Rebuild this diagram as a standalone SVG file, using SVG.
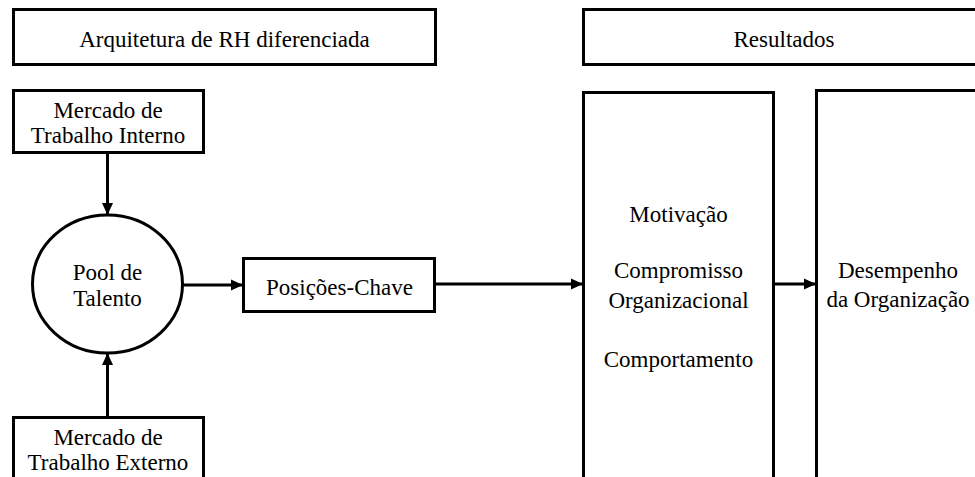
<svg xmlns="http://www.w3.org/2000/svg" width="975" height="477" viewBox="0 0 975 477">
<style>
.box{fill:#fff;stroke:#000;stroke-width:3}
.t{font-size:23px;fill:#000;text-anchor:middle}
.c{stroke:#000;stroke-width:3;fill:none}
</style>
<defs>
<marker id="ah" markerUnits="userSpaceOnUse" markerWidth="12" markerHeight="12" refX="12" refY="6" orient="auto">
<path d="M0,0.5 L12,6 L0,11.5 z" fill="#000"/>
</marker>
</defs>
<rect width="975" height="477" fill="#fff"/>
<g font-family="Liberation Serif, Tinos, DejaVu Serif, serif">
<g id="hdr-arq"><rect class="box" x="13.5" y="9.5" width="422" height="55"/><text class="t" x="224.5" y="47">Arquitetura de RH diferenciada</text></g>
<g id="hdr-res"><rect class="box" x="583.5" y="9.5" width="410" height="55"/><text class="t" x="784" y="47">Resultados</text></g>
<g id="mti"><rect class="box" x="13.5" y="90.5" width="190" height="62"/><text class="t" x="108" y="118">Mercado de</text><text class="t" x="108" y="143">Trabalho Interno</text></g>
<g id="pool"><ellipse class="box" cx="107.5" cy="284" rx="75" ry="69"/><text class="t" x="107.5" y="280">Pool de</text><text class="t" x="107.5" y="306">Talento</text></g>
<g id="mte"><rect class="box" x="13.5" y="417.5" width="190" height="80"/><text class="t" x="108" y="445">Mercado de</text><text class="t" x="108" y="470">Trabalho Externo</text></g>
<g id="pos"><rect class="box" x="243.5" y="258.5" width="191" height="53"/><text class="t" x="339.5" y="295">Posições-Chave</text></g>
<g id="res1"><rect class="box" x="583.5" y="92.5" width="190" height="400"/><text class="t" x="678.5" y="222">Motivação</text><text class="t" x="678.5" y="278">Compromisso</text><text class="t" x="678.5" y="308">Organizacional</text><text class="t" x="678.5" y="367">Comportamento</text></g>
<g id="res2"><rect class="box" x="816.5" y="90.5" width="165" height="400"/><text class="t" x="898" y="278">Desempenho</text><text class="t" x="898" y="307">da Organização</text></g>
</g>
<g id="connectors">
<line class="c" x1="107.5" y1="152" x2="107.5" y2="215" marker-end="url(#ah)"/>
<line class="c" x1="107.5" y1="417" x2="107.5" y2="353" marker-end="url(#ah)"/>
<line class="c" x1="182.5" y1="285" x2="243" y2="285" marker-end="url(#ah)"/>
<line class="c" x1="435" y1="284" x2="583" y2="284" marker-end="url(#ah)"/>
<line class="c" x1="774" y1="284" x2="816" y2="284" marker-end="url(#ah)"/>
</g>
</svg>
